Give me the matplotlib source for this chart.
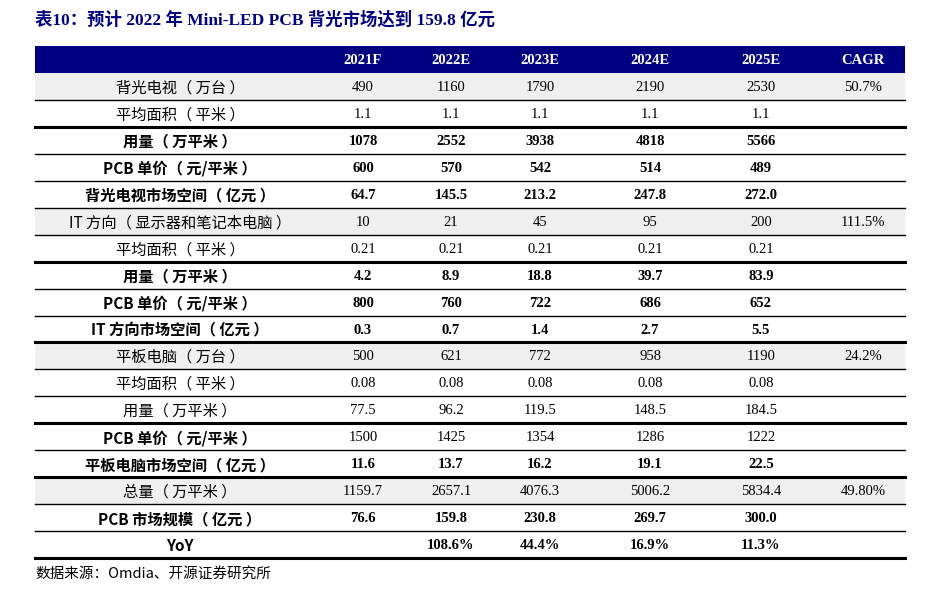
import matplotlib.pyplot as plt

plt.rcParams['font.family'] = ['Liberation Serif', 'Noto Sans CJK SC', 'DejaVu Sans']

title = '表10：预计 2022 年 Mini-LED PCB 背光市场达到 159.8 亿元'
header = ['2021F', '2022E', '2023E', '2024E', '2025E', 'CAGR']
row_labels = ['背光电视（ 万台 ）', '平均面积（ 平米 ）', '用量（ 万平米 ）', 'PCB 单价（ 元/平米 ）',
              '背光电视市场空间（ 亿元 ）', 'IT 方向（ 显示器和笔记本电脑 ）', '平均面积（ 平米 ）',
              '用量（ 万平米 ）', 'PCB 单价（ 元/平米 ）', 'IT 方向市场空间（ 亿元 ）', '平板电脑（ 万台 ）',
              '平均面积（ 平米 ）', '用量（ 万平米 ）', 'PCB 单价（ 元/平米 ）', '平板电脑市场空间（ 亿元 ）',
              '总量（ 万平米 ）', 'PCB 市场规模（ 亿元 ）', 'YoY']
values = [
    ['490', '1160', '1790', '2190', '2530', '50.7%'],
    ['1.1', '1.1', '1.1', '1.1', '1.1', ''],
    ['1078', '2552', '3938', '4818', '5566', ''],
    ['600', '570', '542', '514', '489', ''],
    ['64.7', '145.5', '213.2', '247.8', '272.0', ''],
    ['10', '21', '45', '95', '200', '111.5%'],
    ['0.21', '0.21', '0.21', '0.21', '0.21', ''],
    ['4.2', '8.9', '18.8', '39.7', '83.9', ''],
    ['800', '760', '722', '686', '652', ''],
    ['0.3', '0.7', '1.4', '2.7', '5.5', ''],
    ['500', '621', '772', '958', '1190', '24.2%'],
    ['0.08', '0.08', '0.08', '0.08', '0.08', ''],
    ['77.5', '96.2', '119.5', '148.5', '184.5', ''],
    ['1500', '1425', '1354', '1286', '1222', ''],
    ['11.6', '13.7', '16.2', '19.1', '22.5', ''],
    ['1159.7', '2657.1', '4076.3', '5006.2', '5834.4', '49.80%'],
    ['76.6', '159.8', '230.8', '269.7', '300.0', ''],
    ['', '108.6%', '44.4%', '16.9%', '11.3%', ''],
]
label_bold = [0, 0, 1, 1, 1, 0, 0, 1, 1, 1, 0, 0, 0, 1, 1, 0, 1, 1]
value_bold = [0, 0, 1, 1, 1, 0, 0, 1, 1, 1, 0, 0, 0, 0, 1, 0, 1, 1]
shaded = [0, 5, 10, 15]
thick_after = [1, 6, 9, 12, 14, 17]

navy = '#000080'
fig = plt.figure(figsize=(9.39, 5.9), dpi=100)
ax = fig.add_axes([0, 0, 1, 1])
ax.set_xlim(0, 939)
ax.set_ylim(590, 0)
ax.axis('off')

x0, x1 = 35, 905
col_x = [363, 451, 540, 650, 761, 863]
label_x = 180
top, hh, rh = 46, 27, 26.95

ax.text(35, 20, title, fontsize=12.5, fontweight='bold', color=navy, va='center', ha='left')
ax.add_patch(plt.Rectangle((x0, top), x1 - x0, hh, color=navy, lw=0))
for cx, h in zip(col_x, header):
    ax.text(cx, top + hh / 2 + 1, h, color='white', fontweight='bold', fontsize=10.5,
            ha='center', va='center')

for i, lab in enumerate(row_labels):
    y = top + hh + i * rh
    if i in shaded:
        ax.add_patch(plt.Rectangle((x0, y), x1 - x0, rh, color='#efefef', lw=0))
    fam = ['Noto Sans CJK SC', 'DejaVu Sans']
    ax.text(label_x, y + rh / 2 + 1.5, lab, family=fam, fontsize=11,
            fontweight='bold' if label_bold[i] else 'normal', ha='center', va='center')
    for cx, v in zip(col_x, values[i]):
        ax.text(cx, y + rh / 2 + 1, v, fontsize=10.5,
                fontweight='bold' if value_bold[i] else 'normal', ha='center', va='center')
    lw = 2.2 if i in thick_after else 1.0
    ax.plot([x0, x1], [y + rh, y + rh], color='black', lw=lw)

ax.text(35, 574, '数据来源：Omdia、开源证券研究所', fontsize=10.5, va='center', ha='left',
        family=['Noto Sans CJK SC', 'DejaVu Sans'])

fig.savefig('out.png', dpi=100)
